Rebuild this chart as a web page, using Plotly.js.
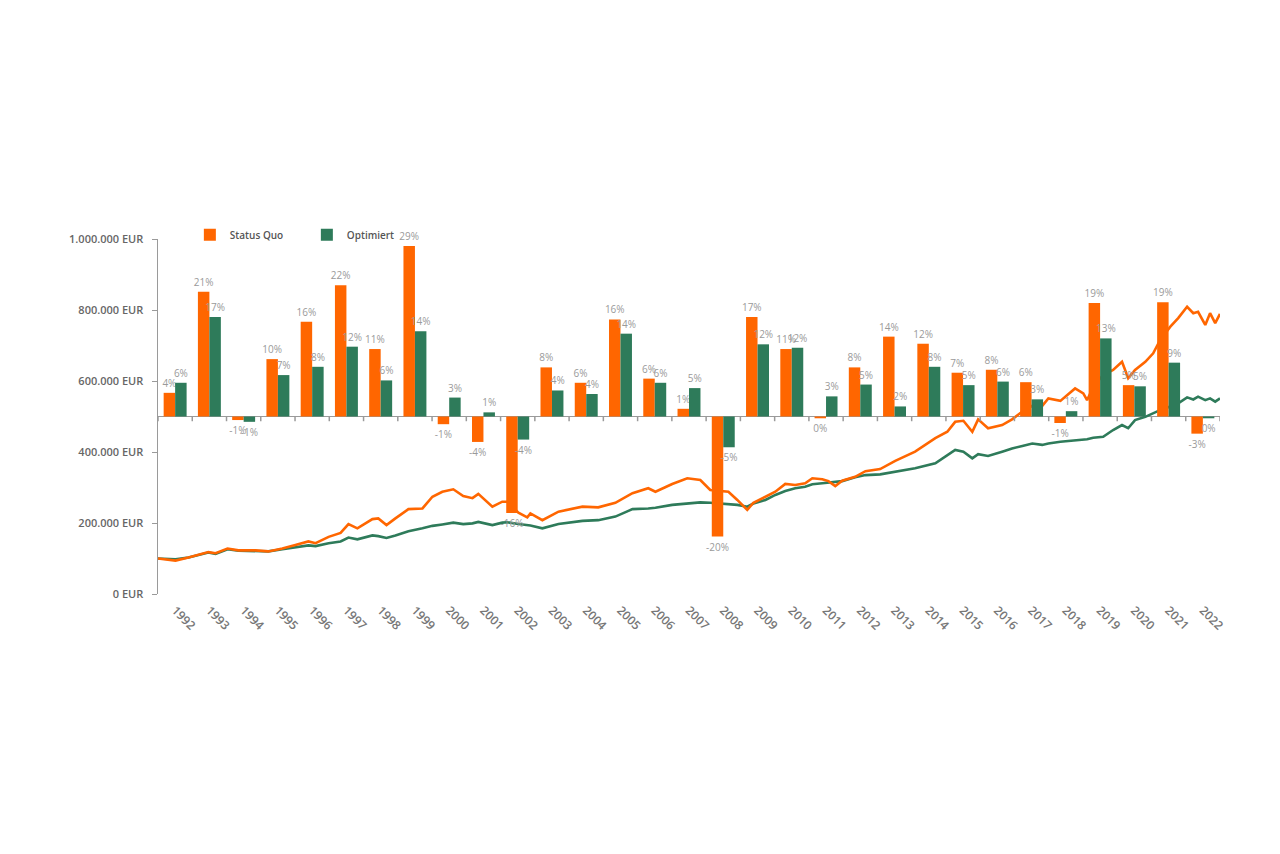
<!DOCTYPE html>
<html>
<head>
<meta charset="utf-8">
<script src="https://cdn.plot.ly/plotly-3.0.1.min.js"></script>
<style>html,body{margin:0;padding:0;background:#fff;}#chart{width:1280px;height:854px;}</style>
</head>
<body>
<div id="chart"></div>
<script>
// Years (categories)
const years = [1992,1993,1994,1995,1996,1997,1998,1999,2000,2001,2002,2003,2004,2005,2006,2007,2008,2009,2010,2011,2012,2013,2014,2015,2016,2017,2018,2019,2020,2021,2022];
// Annual returns in %
const statusQuoPct = [4.0,21.1,-0.6,9.7,16.0,22.2,11.4,28.8,-1.3,-4.3,-16.3,8.3,5.7,16.4,6.4,1.3,-20.3,16.8,11.4,-0.3,8.3,13.5,12.3,7.4,7.9,5.8,-1.1,19.2,5.3,19.3,-2.9];
const optimiertPct  = [5.7,16.8,-0.9,7.0,8.4,11.8,6.1,14.4,3.2,0.7,-3.9,4.4,3.8,14.0,5.7,4.8,-5.2,12.2,11.6,3.4,5.4,1.7,8.4,5.3,5.9,2.9,0.9,13.2,5.1,9.1,-0.3];
// Portfolio value over time (decimal year)
const lineTime = [1992.0,1992.51,1992.89,1993.47,1993.68,1994.03,1994.35,1994.85,1995.22,1995.63,1996.01,1996.39,1996.60,1996.98,1997.33,1997.56,1997.82,1998.26,1998.43,1998.67,1998.93,1999.31,1999.72,2000.01,2000.30,2000.62,2000.91,2001.18,2001.35,2001.76,2002.05,2002.20,2002.52,2002.78,2002.87,2003.22,2003.69,2004.39,2004.85,2005.35,2005.85,2006.31,2006.52,2007.01,2007.45,2007.83,2008.12,2008.65,2008.91,2009.20,2009.38,2009.73,2010.02,2010.31,2010.60,2010.89,2011.10,2011.39,2011.57,2011.77,2011.97,2012.35,2012.65,2013.08,2013.52,2014.10,2014.69,2015.04,2015.27,2015.51,2015.77,2015.94,2016.23,2016.64,2016.93,2017.23,2017.52,2017.81,2017.99,2018.34,2018.77,2019.01,2019.12,2019.30,2019.59,2019.88,2020.14,2020.32,2020.52,2020.82,2021.05,2021.25,2021.55,2021.78,2022.04,2022.22,2022.36,2022.57,2022.71,2022.86,2023.0];
const statusQuoValue = [100000,94000,103000,118000,115000,128000,123000,123000,120000,128000,138000,148000,143000,161000,172000,197000,185000,211000,213000,194000,213000,239000,241000,274000,288000,295000,276000,270000,282000,246000,260000,260000,229000,216000,227000,208000,232000,246000,244000,257000,284000,298000,288000,310000,326000,321000,293000,288000,265000,237000,257000,274000,288000,310000,307000,312000,326000,323000,318000,304000,319000,330000,346000,352000,375000,401000,439000,457000,485000,488000,457000,492000,467000,476000,492000,514000,530000,530000,551000,544000,579000,565000,546000,584000,617000,631000,654000,608000,631000,654000,678000,715000,753000,777000,809000,791000,795000,758000,791000,763000,789000];
const optimiertValue = [100000,98000,103000,117000,113000,126000,122000,122000,120000,126000,132000,137000,135000,143000,148000,159000,154000,165000,163000,158000,165000,177000,185000,192000,196000,201000,197000,199000,203000,194000,201000,202000,197000,194000,193000,185000,197000,206000,208000,218000,239000,241000,243000,251000,255000,258000,257000,253000,251000,246000,255000,265000,279000,290000,298000,302000,309000,312000,314000,316000,318000,329000,335000,337000,345000,354000,368000,392000,406000,401000,382000,394000,389000,401000,410000,417000,424000,420000,424000,429000,432000,434000,436000,440000,443000,462000,476000,467000,490000,499000,509000,518000,528000,537000,554000,548000,556000,546000,551000,542000,551000];
// Axis ticks
const yTickVals = [0,200000,400000,600000,800000,1000000];
const yTickText = ['0 EUR','200.000 EUR','400.000 EUR','600.000 EUR','800.000 EUR','1.000.000 EUR'];
const seriesNames = ['Status Quo','Optimiert'];
const colors = ['#FF6600','#2E7B5A'];

const barX = years.map(y => y + 0.5);
const pctText = arr => arr.map(v => Math.round(v) + '%');

const traces = [
  {type:'scatter', mode:'lines', x:lineTime, y:optimiertValue, xaxis:'x', yaxis:'y',
   line:{color:colors[1], width:2.6}, showlegend:false, hoverinfo:'skip'},
  {type:'scatter', mode:'lines', x:lineTime, y:statusQuoValue, xaxis:'x', yaxis:'y',
   line:{color:colors[0], width:2.6}, showlegend:false, hoverinfo:'skip'},
  {type:'bar', name:seriesNames[0], x:barX, y:statusQuoPct, xaxis:'x', yaxis:'y2',
   marker:{color:colors[0]}, text:pctText(statusQuoPct), textposition:'outside',
   textfont:{family:'Open Sans', size:10, color:'#9a9a9a'}, constraintext:'none', cliponaxis:false},
  {type:'bar', name:seriesNames[1], x:barX, y:optimiertPct, xaxis:'x', yaxis:'y2',
   marker:{color:colors[1]}, text:pctText(optimiertPct), textposition:'outside',
   textfont:{family:'Open Sans', size:10, color:'#9a9a9a'}, constraintext:'none', cliponaxis:false}
];

const boundaries = years.concat([years[years.length-1] + 1]);
const shapes = boundaries.map(b => ({type:'line', xref:'x', yref:'y2', x0:b, x1:b, y0:0, y1:-0.8,
  line:{color:'#9a9a9a', width:1.5}}));

const layout = {
  width:1280, height:854,
  margin:{l:158, r:60, t:239, b:260},
  paper_bgcolor:'#ffffff', plot_bgcolor:'#ffffff',
  font:{family:'Open Sans', color:'#666'},
  barmode:'group', bargap:0.33, bargroupgap:0,
  showlegend:true,
  legend:{orientation:'h', x:0.03, y:1.012, xanchor:'left', yanchor:'middle',
    font:{family:'Open Sans', size:10, color:'#555', weight:600}, entrywidth:72, bgcolor:'rgba(0,0,0,0)'},
  xaxis:{range:[years[0], years[years.length-1]+1], tickvals:barX, ticktext:years.map(String),
    tickangle:45, showgrid:false, zeroline:false, showline:false, ticks:'',
    tickfont:{family:'Open Sans', size:12, color:'#777', weight:600}, ticklabelstandoff:6, fixedrange:true},
  yaxis:{range:[0,1000000], tickvals:yTickVals, ticktext:yTickText, showgrid:false, zeroline:false,
    showline:true, linecolor:'#9a9a9a', linewidth:1.5, ticks:'outside', ticklen:5, tickcolor:'#9a9a9a',
    tickfont:{family:'Open Sans', size:11, color:'#666', weight:600}, ticklabelstandoff:6},
  yaxis2:{overlaying:'y', side:'right', range:[-30,30], showgrid:false, showticklabels:false,
    ticks:'', showline:false, zeroline:true, zerolinecolor:'#9a9a9a', zerolinewidth:1.5},
  shapes:shapes
};

Plotly.newPlot('chart', traces, layout, {staticPlot:true});
</script>
</body>
</html>
